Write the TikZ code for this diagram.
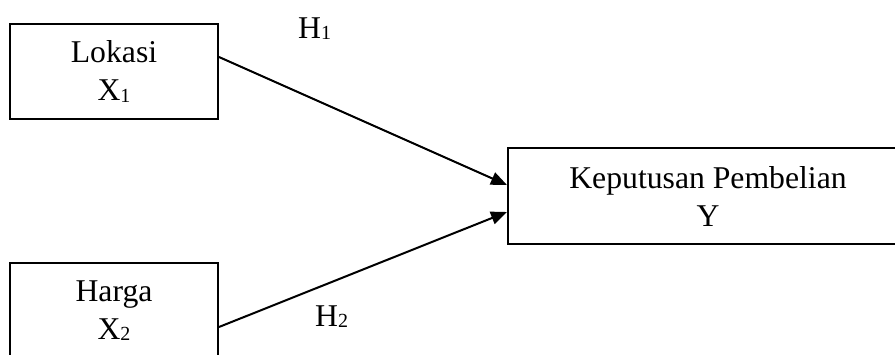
\documentclass[tikz,border=0pt]{standalone}
\usepackage{fontspec}
\setmainfont{Liberation Serif}
\usetikzlibrary{arrows.meta}
\newcommand{\sbx}[1]{\raisebox{-1.5pt}{\fontsize{20}{20}\selectfont #1}}
\begin{document}
\begin{tikzpicture}[x=1pt,y=-1pt,
  box/.style={draw, line width=2pt, inner sep=0pt, align=center, font=\fontsize{31.7}{38}\selectfont},
  lbl/.style={inner sep=0pt, anchor=base west, font=\fontsize{31.7}{38}\selectfont},
  arr/.style={line width=2pt, -{Triangle[length=16pt,width=13pt]}}]
\useasboundingbox (0,0) rectangle (895,354);
\clip (0,0) rectangle (895,354);
\node[box, minimum width=208pt, minimum height=95pt] (L) at (114,71.5) {Lokasi\\X\sbx{1}};
\node[box, minimum width=208pt, minimum height=95pt] (H) at (114,310.5) {Harga\\X\sbx{2}};
\node[box, minimum width=400pt, minimum height=96pt] (K) at (708,196) {Keputusan Pembelian\\Y};
\coordinate (s1) at (L.east |- 0,57);
\coordinate (e1) at (K.west |- 0,185);
\coordinate (s2) at (H.east |- 0,327);
\coordinate (e2) at (K.west |- 0,212);
\draw[arr] (s1) -- (e1);
\draw[arr] (s2) -- (e2);
\node[lbl] (h1) at (298,38) {H\sbx{1}};
\node[lbl] (h2) at (315,326) {H\sbx{2}};
\end{tikzpicture}
\end{document}
